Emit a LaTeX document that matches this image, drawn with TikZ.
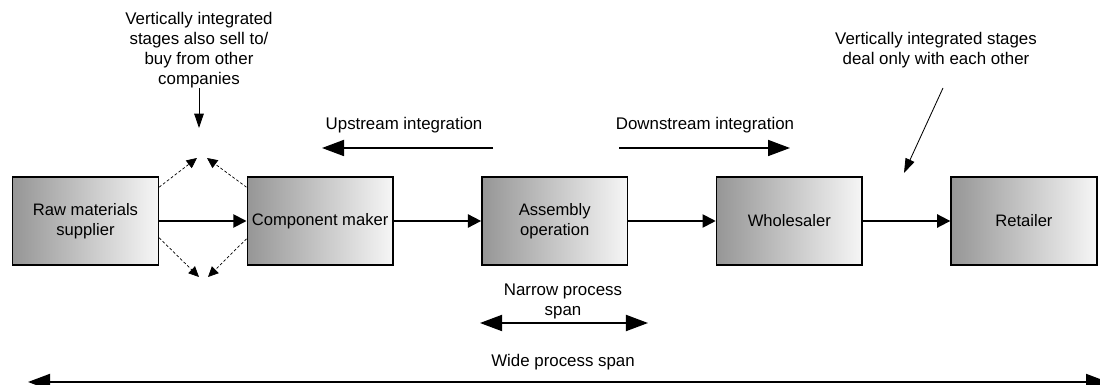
\documentclass[tikz,border=0pt]{standalone}
\usepackage{fontspec}
\setmainfont{Liberation Sans}
\usetikzlibrary{positioning}
\usetikzlibrary{arrows.meta}
\usetikzlibrary{calc}
\definecolor{figGrisOscuro}{RGB}{150,150,150}
\definecolor{figGrisClaro}{RGB}{246,246,246}
\tikzset{
  etapa/.style={
    rectangle, draw=black, line width=1.1pt,
    left color=figGrisOscuro, right color=figGrisClaro,
    minimum height=2.2cm, minimum width=3.64cm,
    align=center, font=\fontsize{11.8}{14}\selectfont, inner sep=1pt
  },
  nota/.style={align=center, font=\fontsize{12}{14.2}\selectfont, inner sep=0pt},
  flecha/.style={-{Triangle[length=0.33cm, width=0.33cm]}, line width=1.3pt},
  flechag/.style={-{Triangle[length=0.55cm, width=0.4cm]}, line width=1.3pt},
  flechad/.style={{Triangle[length=0.55cm, width=0.4cm]}-{Triangle[length=0.55cm, width=0.4cm]}, line width=1.3pt},
  flechan/.style={-{Triangle[length=0.36cm, width=0.24cm]}, line width=0.6pt},
  flechap/.style={-{Triangle[length=0.26cm, width=0.24cm]}, line width=0.5pt, dashed, dash pattern=on 2pt off 1.5pt}
}

\begin{document}
\begin{tikzpicture}[x=0.025cm, y=-0.025cm, node distance=2.185cm]
  \useasboundingbox (0,0) rectangle (1100,385);

  % Cadena de etapas
  \node[etapa] (raw) at (85.5,221) {Raw materials\\supplier};
  \node[etapa, right=of raw] (comp) {Component maker};
  \node[etapa, right=of comp] (asm) {Assembly\\operation};
  \node[etapa, right=of asm] (whole) {Wholesaler};
  \node[etapa, right=of whole] (ret) {Retailer};

  \draw[flecha] (raw) -- (comp);
  \draw[flecha] (comp) -- (asm);
  \draw[flecha] (asm) -- (whole);
  \draw[flecha] (whole) -- (ret);

  % Ventas a otras empresas
  \coordinate (arribaI) at (197,158);
  \coordinate (arribaD) at (207,158);
  \coordinate (abajoI) at (199,277);
  \coordinate (abajoD) at (208,277);
  \draw[flechap] ([yshift=-0.275cm]raw.north east) -- (arribaI);
  \draw[flechap] ([yshift=-0.275cm]comp.north west) -- (arribaD);
  \draw[flechap] ([yshift=0.7cm]raw.south east) -- (abajoI);
  \draw[flechap] ([yshift=0.675cm]comp.south west) -- (abajoD);

  \node[nota] (venta) at (199,50) {Vertically integrated\\stages also sell to/\\buy from other\\companies};
  \coordinate (ventaPunta) at (199,128);
  \draw[flechan] (venta.south) -- (ventaPunta);

  % Solo entre ellas
  \node[nota] (trato) at (936,50) {Vertically integrated stages\\deal only with each other};
  \coordinate (tratoIni) at (943,88);
  \coordinate (tratoPunta) at (904,173);
  \draw[flechan] (tratoIni) -- (tratoPunta);

  % Integracion
  \node[nota] (aguasarriba) at (404,125) {Upstream integration};
  \coordinate (arribaIni) at (493,148);
  \coordinate (arribaFin) at (322,148);
  \draw[flechag] (arribaIni) -- (arribaFin);

  \node[nota] (aguasabajo) at (705,125) {Downstream integration};
  \coordinate (abajoIni) at (619,148);
  \coordinate (abajoFin) at (790,148);
  \draw[flechag] (abajoIni) -- (abajoFin);

  % Alcance del proceso
  \node[nota] (estrecho) at (563,301) {Narrow process\\span};
  \coordinate (estrechoI) at (480,323);
  \coordinate (estrechoD) at (648,323);
  \draw[flechad] (estrechoI) -- (estrechoD);

  \node[nota] (amplio) at (563,362) {Wide process span};
  \coordinate (amplioI) at (28,382);
  \coordinate (amplioD) at (1108,382);
  \draw[flechad] (amplioI) -- (amplioD);
\end{tikzpicture}
\end{document}
